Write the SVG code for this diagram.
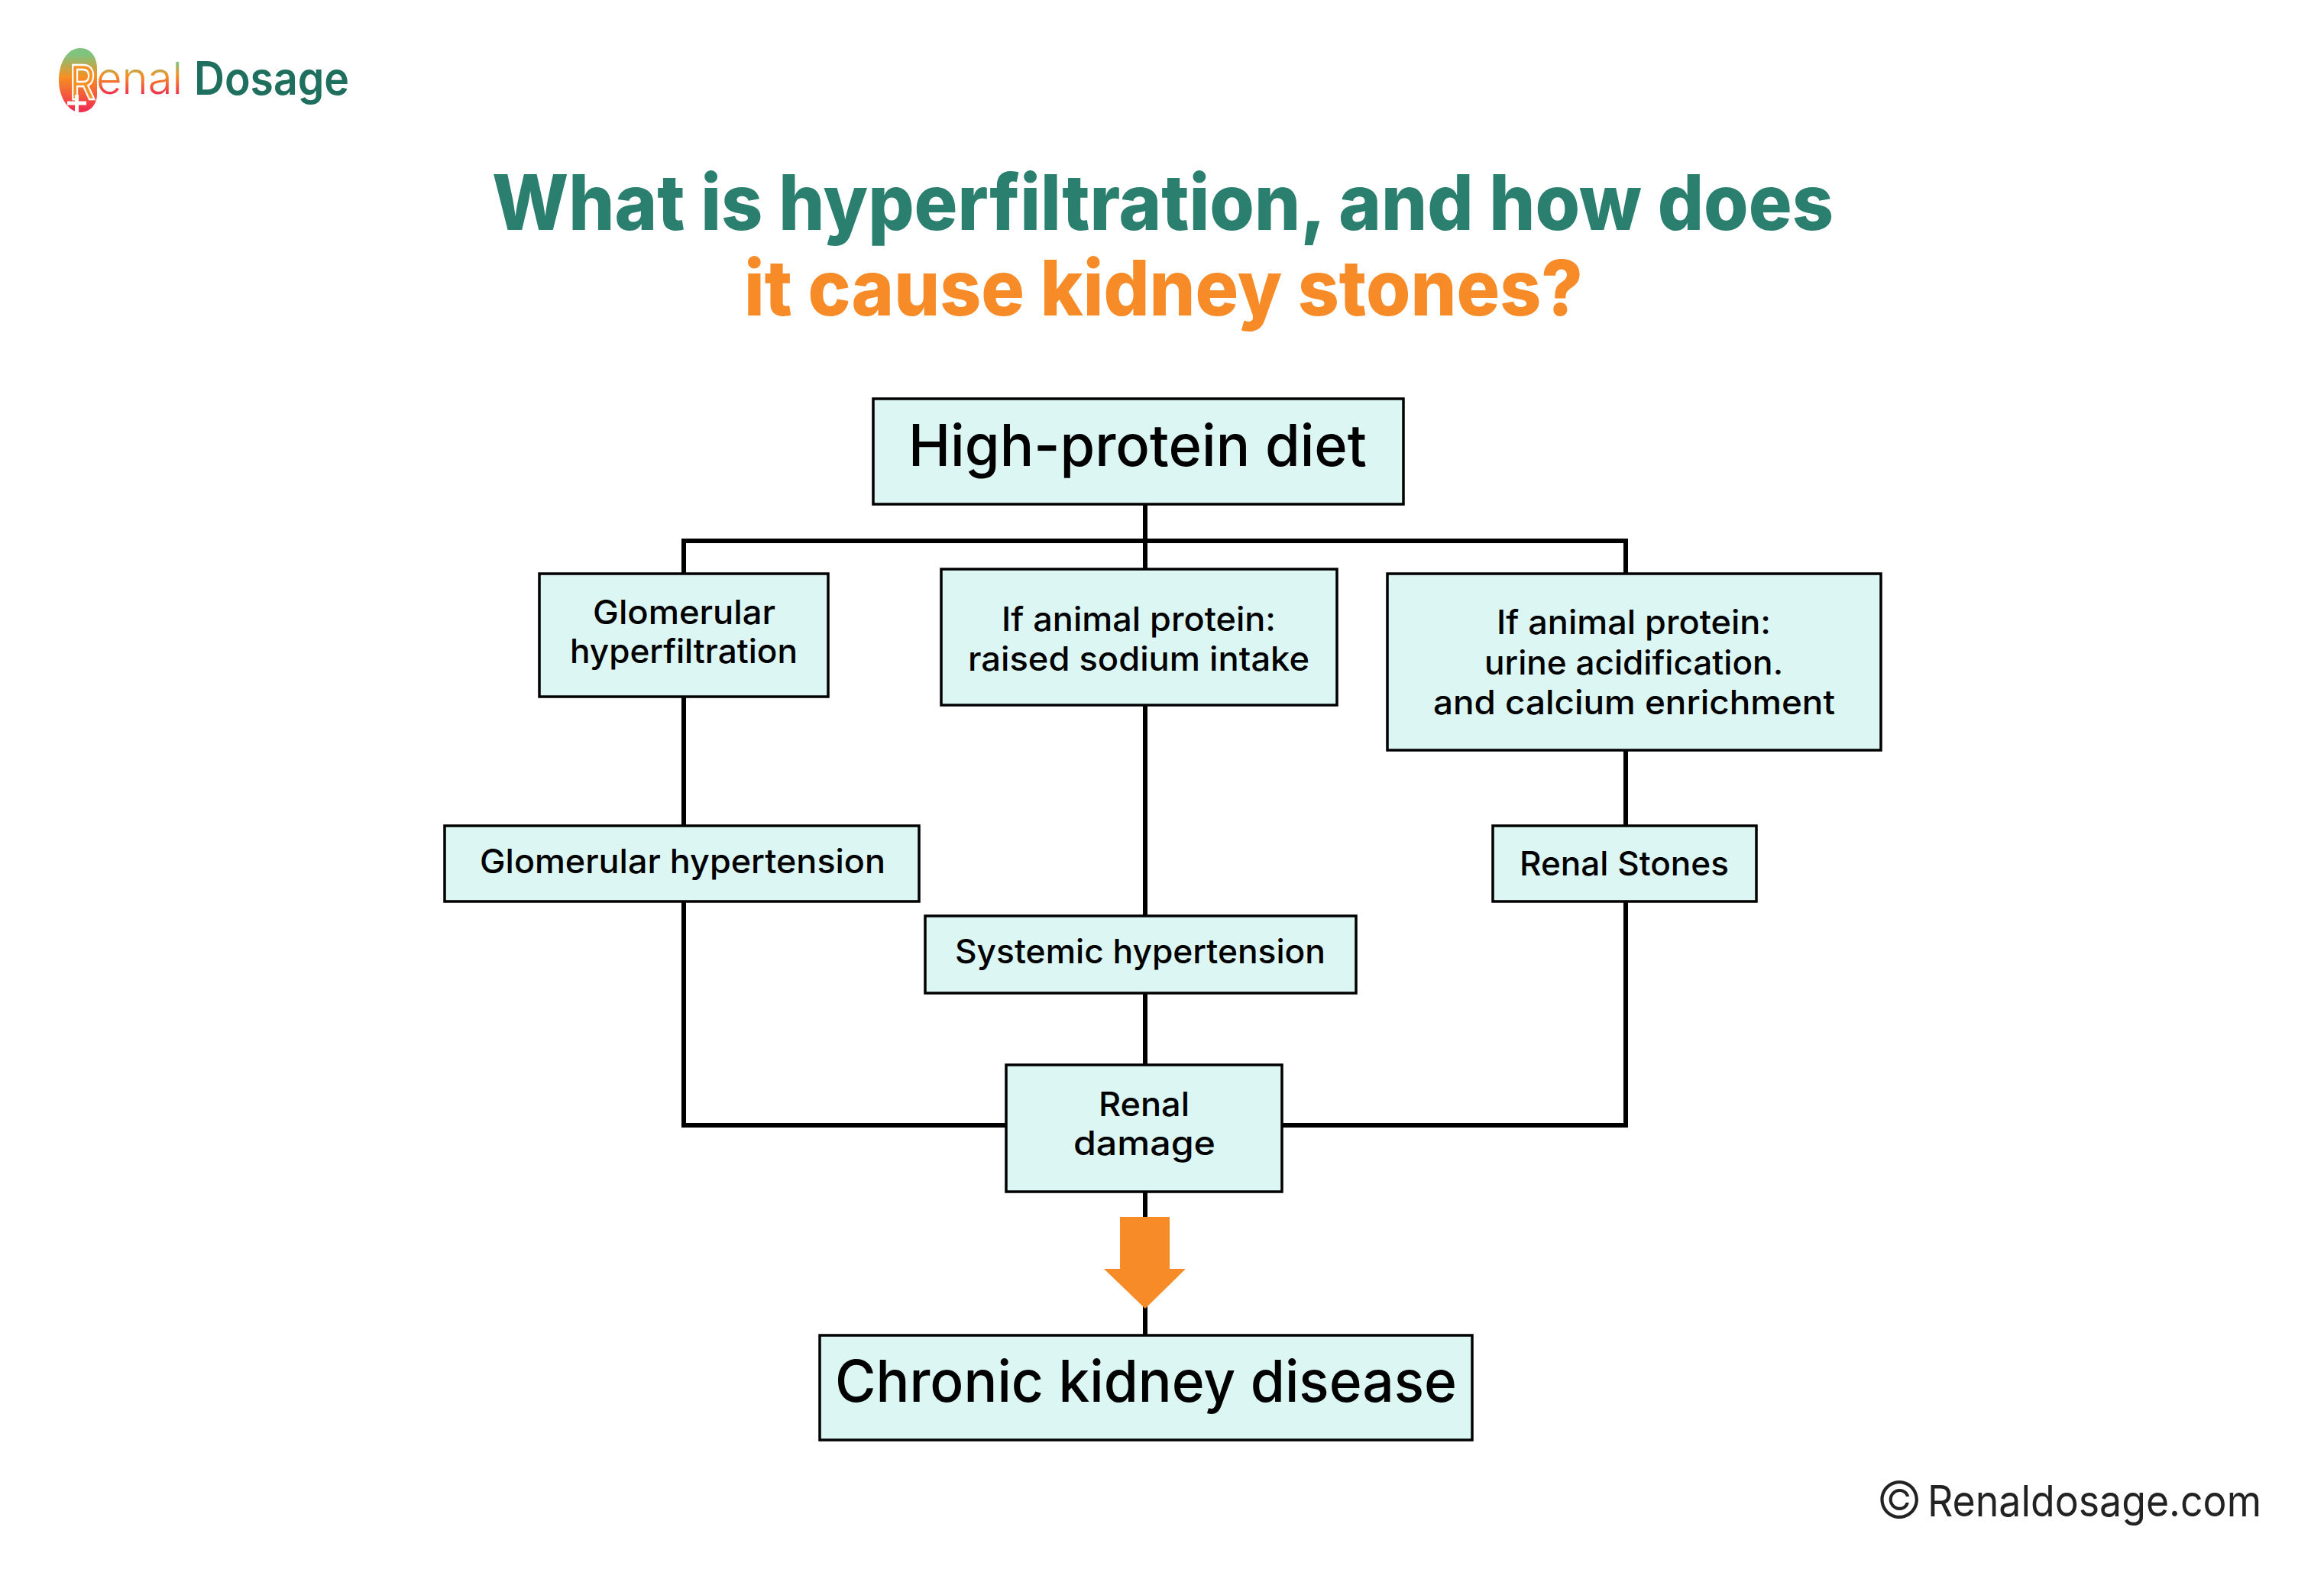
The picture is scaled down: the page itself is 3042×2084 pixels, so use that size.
<svg xmlns="http://www.w3.org/2000/svg" width="3042" height="2084" viewBox="0 0 3042 2084">
<defs>
<linearGradient id="blob" x1="0" y1="0" x2="0" y2="1"><stop offset="0.1" stop-color="#7fc47e"/><stop offset="0.45" stop-color="#f78f22"/><stop offset="0.95" stop-color="#f0304f"/></linearGradient>
<linearGradient id="enal" gradientUnits="userSpaceOnUse" x1="0" y1="82" x2="0" y2="124"><stop offset="0" stop-color="#7fc47e"/><stop offset="0.4" stop-color="#f78f22"/><stop offset="1" stop-color="#f0304f"/></linearGradient>
</defs>
<style>
text{font-family:"Inter","Liberation Sans",sans-serif;fill:#000}
.box{fill:#dcf7f3;stroke:#000;stroke-width:3.500}
.wire{fill:none;stroke:#000;stroke-width:6}
.lab{font-size:44px;font-weight:500}
.big{font-size:76px;font-weight:500}
.title{font-size:101px;font-weight:800}
</style>
<rect width="3042" height="2084" fill="#fff"/>
<g id="logo">
<path d="M77 105C77 82 88 63 105 63C120 63 127 76 127 90C127 104 127 115 127 125C126 140 115 147 105 147C90 147 77 128 77 105Z" fill="url(#blob)"/>
<text x="91" y="130" font-size="62" textLength="34" lengthAdjust="spacingAndGlyphs" style="font-weight:500;fill:#f78f22;stroke:#fff;stroke-width:2.500">R</text>
<path d="M100.500 124V147M88 135H113" stroke="#fff" stroke-width="5" fill="none"/>
<text x="126" y="123" font-size="58" textLength="113" lengthAdjust="spacingAndGlyphs" style="font-weight:300;fill:url(#enal)">enal</text>
<text x="254" y="124" font-size="60" textLength="203" lengthAdjust="spacingAndGlyphs" style="font-weight:600;fill:#1f6f5f">Dosage</text>
</g>
<g id="title">
<text class="title" x="644" y="301" textLength="1756" lengthAdjust="spacingAndGlyphs" style="fill:#2a7f6e">What is hyperfiltration, and how does</text>
<text class="title" x="974" y="413" textLength="1098" lengthAdjust="spacingAndGlyphs" style="fill:#f68b28">it cause kidney stones?</text>
</g>
<g id="connectors">
<path class="wire" d="M895 751V708H2128V751M1499 660V745M895 912V1081M895 1180V1473H1317M1499 923V1199M1499 1300V1393M2128 982V1081M2128 1180V1473H1678M1499 1560V1748"/>
</g>
<g id="n1"><rect class="box" x="1143" y="522" width="694" height="138"/><text class="big" x="1189" y="610" textLength="600" lengthAdjust="spacingAndGlyphs">High-protein diet</text></g>
<g id="n2"><rect class="box" x="706" y="751" width="378" height="161"/><text class="lab" x="776" y="817" textLength="239" lengthAdjust="spacingAndGlyphs">Glomerular</text><text class="lab" x="746" y="868" textLength="298" lengthAdjust="spacingAndGlyphs">hyperfiltration</text></g>
<g id="n3"><rect class="box" x="1232" y="745" width="518" height="178"/><text class="lab" x="1311" y="826" textLength="359" lengthAdjust="spacingAndGlyphs">If animal protein:</text><text class="lab" x="1267" y="878" textLength="447" lengthAdjust="spacingAndGlyphs">raised sodium intake</text></g>
<g id="n4"><rect class="box" x="1816" y="751" width="646" height="231"/><text class="lab" x="1959" y="830" textLength="359" lengthAdjust="spacingAndGlyphs">If animal protein:</text><text class="lab" x="1943" y="883" textLength="391" lengthAdjust="spacingAndGlyphs">urine acidification.</text><text class="lab" x="1876" y="935" textLength="526" lengthAdjust="spacingAndGlyphs">and calcium enrichment</text></g>
<g id="n5"><rect class="box" x="582" y="1081" width="621" height="99"/><text class="lab" x="628" y="1143" textLength="531" lengthAdjust="spacingAndGlyphs">Glomerular hypertension</text></g>
<g id="n6"><rect class="box" x="1954" y="1081" width="345" height="99"/><text class="lab" x="1989" y="1146" textLength="274" lengthAdjust="spacingAndGlyphs">Renal Stones</text></g>
<g id="n7"><rect class="box" x="1211" y="1199" width="564" height="101"/><text class="lab" x="1250" y="1261" textLength="485" lengthAdjust="spacingAndGlyphs">Systemic hypertension</text></g>
<g id="n8"><rect class="box" x="1317" y="1394" width="361" height="166"/><text class="lab" x="1438" y="1461" textLength="119" lengthAdjust="spacingAndGlyphs">Renal</text><text class="lab" x="1405" y="1512" textLength="186" lengthAdjust="spacingAndGlyphs">damage</text></g>
<g id="n9"><rect class="box" x="1073" y="1748" width="854" height="137"/><text class="big" x="1093" y="1835" textLength="814" lengthAdjust="spacingAndGlyphs">Chronic kidney disease</text></g>
<polygon id="arrow" points="1466,1593 1531,1593 1531,1661 1552,1661 1499,1713 1445,1661 1466,1661" fill="#f68b28"/>
<g id="footer">
<text x="2456" y="1987" font-size="66" style="fill:#222;font-weight:300">©</text>
<text x="2523" y="1985" font-size="56" textLength="437" lengthAdjust="spacingAndGlyphs" style="fill:#222;font-weight:400">Renaldosage.com</text>
</g>
</svg>
